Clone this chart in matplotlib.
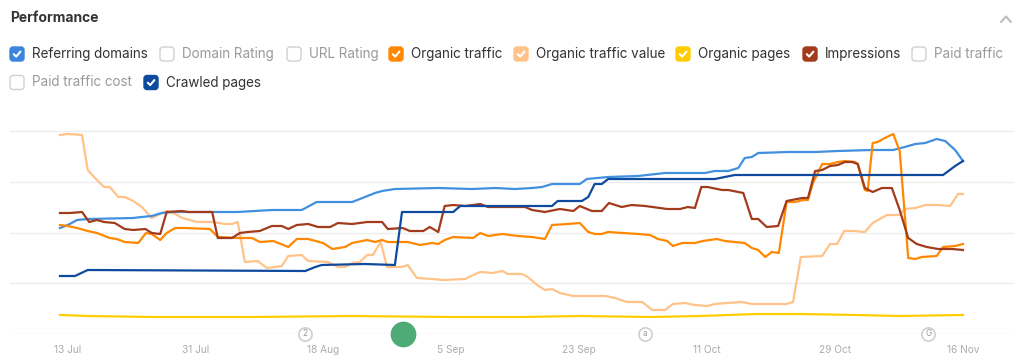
import matplotlib
matplotlib.use("Agg")
import matplotlib.pyplot as plt
from matplotlib.patches import FancyBboxPatch
from matplotlib.lines import Line2D
from matplotlib.transforms import IdentityTransform

plt.rcParams['font.family'] = ['Inter', 'DejaVu Sans']

# x = days since 12 Jul, values on a normalised 0..203 scale (top gridline = 203)
tick_days = [1, 19, 37, 55, 73, 91, 109, 127]
tick_labels = ["13 Jul", "31 Jul", "18 Aug", "5 Sep", "23 Sep", "11 Oct", "29 Oct", "16 Nov"]

rd_days = [0, 1.1, 2.4, 3.9, 10.3, 11.5, 12.9, 14.3, 15.8, 21.8, 25, 29.8, 34, 36.1, 41.1, 42.9, 44.3,
           45.3, 47.1, 53.2, 57.9, 61.2, 64, 66.4, 67.8, 69.2, 73.1, 74.1, 77.1, 81.3, 85.1, 90.7, 92.1,
           94, 95.4, 96.3, 97.3, 98.2, 102.4, 106.2, 109.4, 114.2, 117.2, 118.8, 120.3, 121.7, 123.3,
           124.5, 125.9, 127]
rd_vals = [106, 109, 114, 115, 116, 117, 118, 121, 122, 122, 122, 124, 124, 132, 132, 137, 141, 143, 145,
           146, 145, 146, 145, 146, 147, 150, 150, 155, 157, 158, 161, 161, 163, 163, 166, 176, 177, 181,
           182, 182, 183, 184, 184, 187, 190, 191, 195, 193, 184, 173]

cp_days = [0, 2.1, 3.9, 34.5, 35.9, 36.8, 42.9, 47.1, 48.1, 55.3, 56.3, 69.2, 70, 73.4, 74.3, 75.2, 76.2,
           77.1, 92.1, 94.9, 124.2, 125.9, 127]
cp_vals = [58, 58, 64, 63, 67, 69, 70, 69, 122, 122, 128, 128, 133, 133, 137, 150, 150, 155, 155, 159,
           159, 168, 173]

im_days = [0, 1.4, 3.1, 4.1, 5.2, 6.2, 7.7, 9.1, 10.3, 12, 12.9, 14.1, 15, 17.2, 18, 21.4, 22.2, 24.2,
           25.3, 26.4, 28.1, 29.8, 31.2, 32.1, 33.3, 34.9, 36.3, 38, 39.1, 41.1, 43.2, 45.3, 46.1, 48.2,
           49.2, 51.1, 52, 53.2, 54.1, 55.3, 57, 59.1, 60.2, 65.4, 66.4, 68.2, 70.3, 72.2, 73.1, 74.8,
           76.2, 77.2, 79, 80.4, 82.3, 85.4, 87.2, 88.3, 89.3, 90.2, 91.1, 93.1, 94, 96.1, 97.3, 98.2,
           99.4, 101, 102.2, 104.4, 105.2, 106.2, 107.2, 108.3, 109.4, 110.4, 111.4, 112.2, 113.2, 114.3,
           115.6, 117, 118.1, 119.3, 120.5, 121.9, 123.5, 125.5, 127]
im_vals = [121, 121, 122, 112, 114, 112, 111, 105, 104, 105, 101, 100, 122, 123, 122, 122, 96, 96, 101,
           102, 103, 108, 108, 105, 109, 110, 107, 107, 111, 110, 112, 112, 105, 106, 103, 103, 107, 102,
           128, 129, 128, 130, 127, 127, 124, 122, 125, 123, 128, 123, 123, 131, 127, 129, 128, 125, 125,
           127, 126, 147, 147, 144, 144, 141, 115, 115, 107, 108, 133, 136, 136, 163, 164, 168, 169, 172,
           172, 170, 146, 142, 146, 146, 124, 96, 90, 87, 85, 85, 84]

ot_days = [0, 1.1, 2.4, 3.9, 5.2, 7, 8, 9.1, 11, 12.1, 12.9, 14.1, 15, 16.2, 17.6, 21.1, 22.2, 25, 27,
           28.1, 30, 32.1, 33.3, 34.9, 37, 38.3, 40.1, 41.1, 43.2, 44.3, 45.3, 46.1, 48.9, 50.6, 52.3,
           53.2, 54.1, 55.3, 58.1, 59.1, 60.2, 62.2, 64.4, 66.4, 68.2, 69.2, 71.4, 73.1, 74.3, 75.2, 76.2,
           77.1, 81.3, 83, 84.1, 85.4, 86.2, 87.5, 89.3, 90.4, 92.4, 93.5, 94.9, 96.3, 97.3, 98.2, 99.2,
           100.1, 101.1, 102.2, 103.4, 104.5, 105.2, 105.9, 107.2, 108.3, 109.4, 110.4, 111.8, 112.2,
           113.2, 113.6, 114.3, 115, 116, 117.2, 118.1, 119.3, 120.3, 121.2, 123.3, 124.2, 125.9, 127]
ot_vals = [109, 108, 106, 103, 101, 96, 95, 92, 91, 101, 100, 94, 101, 106, 106, 105, 97, 96, 96, 92,
           93, 87, 95, 95, 91, 85, 87, 91, 94, 92, 94, 92, 92, 89, 91, 90, 94, 97, 96, 101, 98, 100, 98,
           97, 95, 109, 110, 111, 102, 100, 100, 102, 100, 99, 95, 93, 88, 91, 91, 93, 95, 93, 92, 91, 86,
           84, 77, 82, 81, 132, 132, 134, 134, 151, 170, 170, 172, 173, 172, 170, 144, 143, 191, 192, 196,
           200, 183, 76, 75, 77, 78, 87, 88, 90]

otv_days = [0, 1.1, 3.1, 3.9, 5.2, 6.2, 7, 8.2, 9.1, 10.3, 11.5, 12.9, 13.8, 15, 16.2, 17.2, 19.3, 21.4,
            23.2, 24.2, 25, 26, 27.8, 29.1, 31.2, 32.1, 34, 34.9, 37.7, 39.1, 40.1, 41.1, 42.2, 43.2, 44,
            45.1, 46, 48.1, 48.9, 50.2, 52.3, 53.9, 57, 58.1, 59.1, 60.8, 62.2, 63, 65, 65.8, 67.1, 68.2,
            69.2, 70.3, 72.2, 76.7, 78.1, 79.7, 81.9, 83.3, 85.1, 86.2, 87.9, 89.3, 91, 92.1, 93.8, 95.9,
            97.3, 102.2, 103.1, 104.2, 107.2, 108.3, 109.3, 110.3, 111.8, 113.2, 114.3, 116.3, 118.1,
            118.8, 120.3, 121.7, 123.5, 125.2, 126.3, 127]
otv_vals = [199, 200, 199, 164, 154, 147, 147, 137, 137, 133, 127, 116, 119, 123, 120, 116, 112, 112, 110,
            110, 112, 72, 73, 66, 68, 78, 79, 73, 72, 67, 67, 71, 72, 79, 79, 92, 67, 67, 69, 56, 55, 54,
            55, 59, 62, 61, 63, 60, 60, 57, 49, 44, 45, 41, 38, 38, 36, 32, 32, 24, 24, 30, 31, 29, 28, 30,
            31, 32, 30, 30, 32, 77, 78, 90, 90, 103, 103, 102, 111, 119, 119, 125, 126, 129, 129, 128,
            140, 140]

op_days = [0, 4, 13, 27, 41, 55, 65, 73, 83, 90, 98, 104, 112, 118, 127]
op_vals = [19, 18, 17, 17, 18, 17, 17, 18, 17, 18, 20, 20, 19, 18, 19]

# annotation markers on the time axis
note_days = [34.5, 82.3, 122.1]
note_marks = ["2", "a", "G"]
event_day = 48.2

legend_names = ["Referring domains", "Domain Rating", "URL Rating", "Organic traffic",
                "Organic traffic value", "Organic pages", "Impressions", "Paid traffic",
                "Paid traffic cost", "Crawled pages"]
legend_colors = ["#3b86dc", None, None, "#ff8800", "#ffc38a", "#ffcc00", "#a23b1c", None,
                 None, "#0e4a9e"]

W, H = 1024, 361
fig = plt.figure(figsize=(W / 100, H / 100), dpi=100)
fig.patch.set_facecolor("white")

ax = fig.add_axes([10 / W, (H - 334) / H, 1005 / W, 214 / H])
ax.set_xlim((10 - 60) / 7.11, (1015 - 60) / 7.11)
ax.set_ylim(0, 214)

ax.plot(op_days, op_vals, color="#ffcc00", lw=1.6, zorder=2)
ax.plot(otv_days, otv_vals, color="#ffc38a", lw=1.6, zorder=3)
ax.plot(rd_days, rd_vals, color="#4190e0", lw=1.6, zorder=4)
ax.plot(ot_days, ot_vals, color="#ff8800", lw=1.6, zorder=5)
ax.plot(im_days, im_vals, color="#a23b1c", lw=1.6, zorder=6)
ax.plot(cp_days, cp_vals, color="#0e4a9e", lw=1.6, zorder=7)

ax.set_yticks([0, 50.75, 101.5, 152.25, 203])
ax.grid(axis="y", color="#ededed", lw=1, zorder=0)
ax.set_xticks(tick_days)
ax.set_xticklabels(tick_labels)
ax.tick_params(axis="x", length=0, pad=8, labelsize=7.3, labelcolor="#adadad")
ax.tick_params(axis="y", left=False, labelleft=False)
for s in ax.spines.values():
    s.set_visible(False)

for d, m in zip(note_days, note_marks):
    ax.plot([d], [0], "o", ms=9.5, mfc="white", mec="#cfcfcf", mew=1.2, clip_on=False, zorder=10)
    ax.text(d, 0, m, ha="center", va="center", fontsize=6, color="#999999", zorder=11, clip_on=False)
ax.plot([event_day], [0], "o", ms=17.5, mfc="#4eab76", mec="#4eab76", clip_on=False, zorder=10)

# header
fig.text(10 / W, 1 - 18 / H, "Performance", fontsize=10, fontweight="bold", color="#333333",
         va="center", ha="left")
fig.add_artist(Line2D([1001, 1006, 1011], [H - 22, H - 16.5, H - 22], transform=IdentityTransform(),
                      color="#bdbdbd", lw=1.5, solid_capstyle="round", solid_joinstyle="round"))

# legend with checkboxes
box_x = [10, 160, 287, 389, 514, 676, 803, 912, 10, 144]
box_y = [47, 47, 47, 47, 47, 47, 47, 47, 75.5, 75.5]
for name, col, bx, by in zip(legend_names, legend_colors, box_x, box_y):
    checked = col is not None
    fig.add_artist(FancyBboxPatch((bx, H - by - 14), 14, 14,
                                  boxstyle="round,pad=0,rounding_size=3",
                                  transform=IdentityTransform(),
                                  facecolor=col if checked else "white",
                                  edgecolor=col if checked else "#d0d0d0", lw=1))
    if checked:
        fig.add_artist(Line2D([bx + 3.8, bx + 6.2, bx + 10.4], [H - by - 7.2, H - by - 9.6, H - by - 4.6],
                              transform=IdentityTransform(), color="white", lw=1.5,
                              solid_capstyle="round", solid_joinstyle="round"))
    fig.text((bx + 22) / W, 1 - (by + 7) / H, name, fontsize=9.7,
             color="#333333" if checked else "#9a9a9a", va="center", ha="left")

fig.savefig("out.png", dpi=100, facecolor="white")
